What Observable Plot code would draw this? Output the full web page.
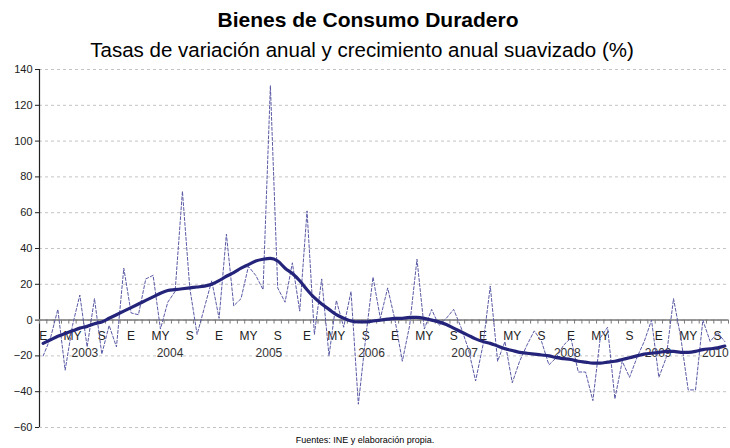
<!DOCTYPE html>
<html><head><meta charset="utf-8">
<script src="https://cdn.jsdelivr.net/npm/d3@7"></script>
<script src="https://cdn.jsdelivr.net/npm/@observablehq/plot@0.6"></script>
<style>
body{margin:0;background:#fff;font-family:"Liberation Sans",Arial,sans-serif;}
#wrap{position:relative;width:730px;height:448px;overflow:hidden;background:#fff}
.t{position:absolute;width:730px;text-align:center;white-space:nowrap;color:#000}
#chart{position:absolute;left:0;top:0}
</style></head><body>
<div id="wrap">
<div id="chart"></div>
<div class="t" style="left:3px;top:9px;font-size:21px;line-height:21px;font-weight:bold">Bienes de Consumo Duradero</div>
<div class="t" style="left:-3px;top:40px;font-size:20.5px;line-height:20.5px">Tasas de variación anual y crecimiento anual suavizado (%)</div>
<div class="t" style="left:0px;top:436px;font-size:9px;line-height:9px">Fuentes: INE y elaboración propia.</div>
</div>
<script>
// Monthly categories: Jan 2003 .. Oct 2010
const years = [2003, 2004, 2005, 2006, 2007, 2008, 2009, 2010];
const monthLabels = ["E", "MY", "S"];
const monthLabelOffsets = [0, 4, 8];
// where each year label sits (month index on the category axis)
const yearLabelAt = [5.7, 17.3, 30.8, 44.8, 57.5, 71.5, 83.9, 91.7];
const yTicks = [-60, -40, -20, 0, 20, 40, 60, 80, 100, 120, 140];

// Tasa de variación anual (dashed)
const rates = [
  -20, -10, 6, -28, -3, 14, -15, 12, -19, -3, -15, 29,
  4, 3, 23, 25, -5, 10, 16, 72, 18, -8, 7, 22,
  1, 48, 8, 12, 30, 25, 17, 131, 18, 10, 32, 5,
  61, -8, 23, -20, 11, -4, 16, -47, -10, 24, 1, 18,
  0, -23, -3, 34, -5, 6, -3, 1, 6, -4, -16, -34,
  -14, 19, -23, -12, -35, -23, -14, -6, -12, -25, -21, -14,
  -10, -29, -29, -45, -10, -4, -44, -23, -32, -21, -12, 0,
  -32, -21, 12, -10, -39, -39, 0, -12, -7, -12
];
// Crecimiento anual suavizado (solid)
const smooth = [
  -13, -11, -9, -7.5, -6, -4.5, -3.5, -2, -1, 1, 3, 5,
  7, 9, 11, 13, 15, 16.5, 17, 17.5, 18, 18.5, 19, 20,
  22, 24.5, 26.5, 29, 31, 33, 34, 34.5, 33, 29, 26, 22,
  17, 12.5, 9, 6, 3, 1, -0.5, -1, -1, -0.5, 0, 0.5,
  1, 1, 1.5, 1.5, 1, 0, -1, -2.5, -4.5, -6.5, -8.5, -10.5,
  -12, -13, -14.5, -16, -17, -18, -18.5, -19, -19.5, -20, -21, -21.5,
  -22, -23, -23.5, -24, -24, -23.5, -23, -22, -21, -20, -19, -18.5,
  -18, -17.5, -17.5, -18, -18, -17.5, -16.5, -16, -15.5, -14.5
];

const n = rates.length;
const data = rates.map((v, i) => ({i, rate: v, smooth: smooth[i]}));
const boundaries = d3.range(n + 1).map(k => k - 0.5);
const monthTicks = [];
years.forEach((y, yi) => monthLabels.forEach((lab, k) => {
  const i = yi * 12 + monthLabelOffsets[k];
  if (i < n) monthTicks.push({i, label: lab});
}));
const yearTicks = years.map((y, k) => ({at: yearLabelAt[k], year: String(y)}));

const chart = Plot.plot({
  width: 730, height: 448,
  marginTop: 69, marginBottom: 21, marginLeft: 39, marginRight: 2,
  style: {fontFamily: "'Liberation Sans', Arial, sans-serif", fontSize: "11px", color: "#222", background: "transparent"},
  x: {domain: [-0.5, n - 0.5], axis: null},
  y: {domain: [-60, 140], axis: null},
  marks: [
    Plot.ruleY(yTicks, {stroke: "#c4c4c4", strokeDasharray: "3,3", strokeWidth: 1}),
    Plot.axisY({ticks: yTicks, tickSize: 4, tickPadding: 3, stroke: "#222", fontSize: 11, label: null}),
    Plot.ruleX([-0.5], {stroke: "#222", strokeWidth: 1.2}),
    Plot.ruleY([0], {stroke: "#7a7a7a", strokeWidth: 1.5}),
    Plot.ruleX(boundaries, {x: d => d, y1: 0, y2: 0, insetBottom: -4, stroke: "#7a7a7a", strokeWidth: 1}),
    Plot.text(monthTicks, {x: "i", y: 0, text: "label", dy: 16, fontSize: 12, fill: "#222"}),
    Plot.text(yearTicks, {x: "at", y: 0, text: "year", dy: 33, fontSize: 12, fill: "#333"}),
    Plot.line(data, {x: "i", y: "rate", stroke: "#5a5aa6", strokeWidth: 1, strokeDasharray: "3,2"}),
    Plot.line(data, {x: "i", y: "smooth", stroke: "#24247a", strokeWidth: 3.2, curve: "monotone-x"})
  ]
});
document.getElementById("chart").appendChild(chart);
</script>
</body></html>
